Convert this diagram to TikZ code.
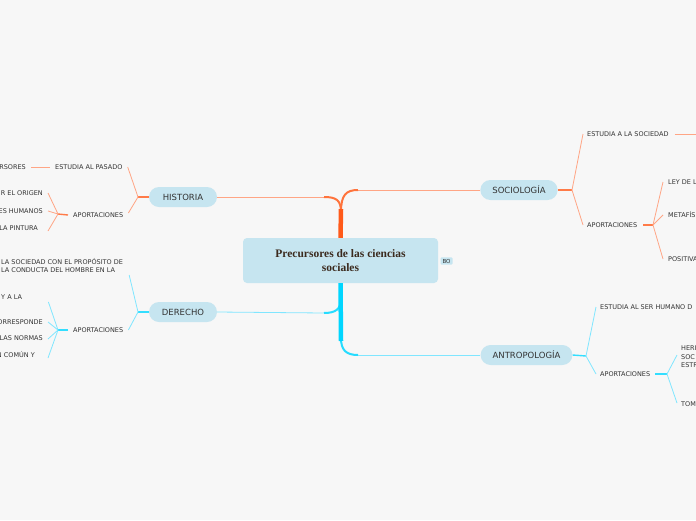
\documentclass[tikz,border=0pt]{standalone}
\usepackage{fontspec}
\setmainfont{DejaVu Sans}
\newfontfamily\titolofont{Liberation Serif}

\definecolor{fondo}{HTML}{F7F7F7}
\definecolor{nodo}{HTML}{C6E5F0}
\definecolor{testo}{HTML}{333333}
\definecolor{titolo}{HTML}{3B2A1E}
\definecolor{arancio}{HTML}{FF5A1A}
\definecolor{arancioch}{HTML}{FFA585}
\definecolor{ciano}{HTML}{00D6FF}
\definecolor{cianoch}{HTML}{80E6FF}

\tikzset{
    ramo/.style={fill=nodo, rounded corners=10pt, minimum height=20pt, minimum width=68pt,
        inner xsep=12pt, text=testo, font=\fontsize{8.5}{10}\selectfont},
    voce/.style={inner sep=0pt, text=testo, font=\fontsize{6.5}{8.5}\selectfont},
    filoA/.style={arancioch, line width=0.8pt},
    filoC/.style={cianoch, line width=0.8pt},
    forcaA/.style={arancio!80, line width=1.4pt},
    forcaC/.style={ciano!80, line width=1.4pt},
    curvaA/.style={arancio!85, line width=2pt},
    curvaC/.style={ciano!85, line width=2pt},
}

\begin{document}
\begin{tikzpicture}[x=1pt,y=-1pt]
    \fill[fondo] (0,0) rectangle (696,520);
    \useasboundingbox (0,0) rectangle (696,520);

    % nodo centrale
    \node[fill=nodo, rounded corners=4pt, minimum width=195pt, minimum height=45pt,
        align=center, text=titolo, font=\titolofont\bfseries\fontsize{11.5}{14.5}\selectfont]
        (centro) at (340.5,260.5) {Precursores de las ciencias\\sociales};
    \node[fill=nodo, rounded corners=1pt, inner xsep=2pt, inner ysep=1.5pt, text=testo,
        font=\fontsize{5.5}{6.5}\selectfont] (bo) at (446.5,261) {BO};

    % rami principali
    \node[ramo] (historia) at (183,197) {HISTORIA};
    \node[ramo] (derecho) at (183,312) {DERECHO};
    \node[ramo] (sociologia) at (519,190) {SOCIOLOGÍA};
    \node[ramo] (antropologia) at (526.5,355) {ANTROPOLOGÍA};

    % tronco arancione
    \draw[filoA] (historia.east) -- (324,197);
    \draw[curvaA] (324,197) .. controls (336,197) and (341,200) .. (341,212);
    \draw[filoA] (sociologia.west) -- (358,190);
    \draw[curvaA] (358,190) .. controls (346,190) and (341,195) .. (341,212);
    \draw[arancio, line width=4.5pt] (centro.north) -- (341,209);

    % tronco azzurro
    \draw[filoC] (derecho.east) -- (324,313);
    \draw[curvaC] (324,313) .. controls (336,313) and (341,309) .. (341,298);
    \draw[filoC] (antropologia.west) -- (358,355);
    \draw[curvaC] (358,355) .. controls (346,355) and (341,350) .. (341,338);
    \draw[ciano, line width=4.5pt] (centro.south) -- (341,341);

    % historia
    \coordinate (fh) at (138,197);
    \draw[forcaA] (historia.west) -- (fh);
    \node[voce, anchor=west] (pasado) at (55,167) {ESTUDIA AL PASADO};
    \node[voce, anchor=east] (rsores) at (26,167) {RSORES};
    \draw[filoA] ([xshift=-5pt]pasado.west) -- ([xshift=5pt]rsores.east);
    \node[voce, anchor=west] (aporth) at (73,215) {APORTACIONES};
    \draw[filoA] (fh) -- ([xshift=5pt]pasado.east);
    \draw[filoA] (fh) -- ([xshift=5pt,yshift=2pt]aporth.east);
    \coordinate (fah) at (58,214);
    \draw[forcaA] ([xshift=-5pt]aporth.west) -- (fah);
    \node[voce, anchor=east] (origen) at (43,193) {R EL ORIGEN};
    \node[voce, anchor=east] (humanos) at (43,211) {ES HUMANOS};
    \node[voce, anchor=east] (pintura) at (38,228) {LA PINTURA};
    \draw[filoA] (fah) -- ([xshift=5pt]origen.east);
    \draw[filoA] (fah) -- ([xshift=5pt]humanos.east);
    \draw[filoA] (fah) -- ([xshift=10pt,yshift=-3pt]pintura.east);

    % derecho
    \coordinate (fd) at (138,312);
    \draw[forcaC] (derecho.west) -- (fd);
    \node[voce, anchor=north west, align=left] (proposito) at (1,258)
        {LA SOCIEDAD CON EL PROPÓSITO DE\\LA CONDUCTA DEL HOMBRE EN LA};
    \node[voce, anchor=west] (aportd) at (73,330) {APORTACIONES};
    \draw[filoC] (fd) -- ([xshift=6pt,yshift=-2pt]proposito.south east);
    \draw[filoC] (fd) -- ([xshift=5pt]aportd.east);
    \coordinate (fad) at (58,330);
    \draw[forcaC] ([xshift=-5pt]aportd.west) -- (fad);
    \node[voce, anchor=west, text width=42pt] (yala) at (1,297) {Y A LA};
    \node[voce, anchor=east] (corresponde) at (43,322) {ORRESPONDE};
    \node[voce, anchor=east] (normas) at (43,338) {LAS NORMAS};
    \node[voce, anchor=east] (comun) at (35,355) {N COMÚN Y};
    \draw[filoC] (fad) -- ([xshift=5pt,yshift=-5pt]yala.east);
    \draw[filoC] (fad) -- ([xshift=5pt]corresponde.east);
    \draw[filoC] (fad) -- ([xshift=5pt,yshift=-1pt]normas.east);
    \draw[filoC] (fad) -- ([xshift=13pt,yshift=-3pt]comun.east);

    % sociologia
    \coordinate (fs) at (572,190);
    \draw[forcaA] (sociologia.east) -- (fs);
    \node[voce, anchor=west] (sociedad) at (587,134) {ESTUDIA A LA SOCIEDAD};
    \node[voce, anchor=west] (aports) at (587,225) {APORTACIONES};
    \draw[filoA] (fs) -- ([xshift=-4pt]sociedad.west);
    \draw[filoA] (fs) -- ([xshift=-4pt]aports.west);
    \coordinate (fuori) at (700,134);
    \draw[filoA] ([xshift=6pt]sociedad.east) -- (fuori);
    \coordinate (fas) at (653,225);
    \draw[forcaA] ([xshift=6pt]aports.east) -- (fas);
    \node[voce, anchor=west] (ley) at (668,182) {LEY DE L};
    \node[voce, anchor=west] (metafis) at (668,215) {METAFÍS};
    \node[voce, anchor=west] (positiva) at (668,259) {POSITIVA};
    \draw[filoA] (fas) -- ([xshift=-5pt]ley.west);
    \draw[filoA] (fas) -- ([xshift=-5pt]metafis.west);
    \draw[filoA] (fas) -- ([xshift=-5pt]positiva.west);

    % antropologia
    \coordinate (fa) at (586,356);
    \draw[forcaC] (antropologia.east) -- (fa);
    \node[voce, anchor=west] (serhumano) at (600,307) {ESTUDIA AL SER HUMANO D};
    \node[voce, anchor=west] (aporta) at (600,374) {APORTACIONES};
    \draw[filoC] (fa) -- ([xshift=-4pt]serhumano.west);
    \draw[filoC] (fa) -- ([xshift=-4pt]aporta.west);
    \coordinate (faa) at (667,374);
    \draw[forcaC] ([xshift=5pt]aporta.east) -- (faa);
    \node[voce, anchor=west, align=left] (heri) at (681,357) {HERI\\SOC\\ESTR};
    \node[voce, anchor=west] (tom) at (681,404) {TOM};
    \draw[filoC] (faa) -- ([xshift=-4pt,yshift=2pt]heri.west);
    \draw[filoC] (faa) -- ([xshift=-4pt,yshift=1pt]tom.west);
\end{tikzpicture}
\end{document}
